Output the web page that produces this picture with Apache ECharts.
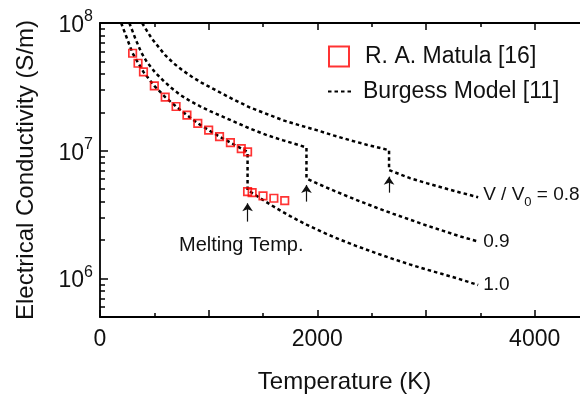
<!DOCTYPE html>
<html>
<head>
<meta charset="utf-8">
<script src="https://cdn.jsdelivr.net/npm/echarts@6/dist/echarts.min.js"></script>
<style>
html, body { margin: 0; padding: 0; background: #fff; }
#chart { width: 580px; height: 395px; }
</style>
</head>
<body>
<div id="chart"></div>
<script>
// R. A. Matula data (K, S/m)
const matulaT = [300, 350, 400, 500, 600, 700, 800, 900, 1000, 1100, 1200, 1300, 1358, 1358, 1400, 1500, 1600, 1700];
const matulaS = [5.8e7, 4.84e7, 4.14e7, 3.22e7, 2.63e7, 2.22e7, 1.90e7, 1.64e7, 1.45e7, 1.29e7, 1.16e7, 1.04e7, 9.8e6,
  4.79e6, 4.70e6, 4.43e6, 4.25e6, 4.07e6];

// Burgess model, V/V0 = 1.0
const burgess10T = [195, 241, 300, 400, 500, 600, 700, 800, 900, 1000, 1100, 1200, 1300, 1358, 1358, 1410, 1500, 1600, 1750, 1900,
  2050, 2200, 2350, 2550, 2700, 2850, 3000, 3150, 3300, 3480];
const burgess10S = [1.0e8, 7.87e7, 5.8e7, 4.14e7, 3.22e7, 2.63e7, 2.22e7, 1.90e7, 1.64e7, 1.45e7, 1.29e7, 1.16e7, 1.04e7, 9.8e6, 4.93e6, 4.62e6, 4.12e6, 3.65e6, 3.08e6, 2.64e6,
  2.30e6, 2.03e6, 1.81e6, 1.57e6, 1.42e6, 1.29e6, 1.18e6, 1.085e6, 9.95e5, 8.9e5];

// Burgess model, V/V0 = 0.9
const burgess09T = [270, 300, 324, 379, 431, 508, 584, 661, 737, 829, 921, 1013, 1228, 1381, 1535, 1687, 1841, 1900, 1900,
  1994, 2147, 2300, 2393, 2546, 2699, 2852, 3006, 3159, 3312, 3480];
const burgess09S = [1.0e8, 8.6e7, 7.6e7, 5.9e7, 4.95e7, 4.1e7, 3.53e7, 3.08e7, 2.74e7, 2.45e7, 2.23e7, 2.04e7, 1.70e7, 1.49e7, 1.325e7, 1.205e7, 1.10e7, 1.06e7, 6.08e6,
  5.57e6, 4.89e6, 4.32e6, 4.02e6, 3.58e6, 3.21e6, 2.89e6, 2.60e6, 2.36e6, 2.14e6, 1.95e6];

// Burgess model, V/V0 = 0.8
const burgess08T = [388, 431, 477, 538, 600, 676, 753, 845, 937, 1075, 1228, 1381, 1535, 1687, 1841, 1994, 2147, 2300, 2454, 2660, 2660,
  2853, 3006, 3159, 3312, 3480];
const burgess08S = [1.0e8, 8.7e7, 7.55e7, 6.5e7, 5.6e7, 4.85e7, 4.3e7, 3.8e7, 3.4e7, 2.95e7, 2.52e7, 2.18e7, 1.94e7, 1.73e7, 1.58e7, 1.45e7, 1.32e7, 1.21e7, 1.115e7, 1.01e7, 7.06e6,
  6.1e6, 5.58e6, 5.12e6, 4.72e6, 4.33e6];

// melting-point arrows: [T, tail, tip]
const arrows = [[1358, 2.79e6, 3.88e6], [1900, 4.0e6, 5.4e6], [2660, 4.7e6, 6.27e6]];

// axis ticks
const xLabels = [0, 2000, 4000];
const yMajor = [1e6, 1e7, 1e8];
const yMinor = [6e5, 7e5, 8e5, 9e5, 2e6, 3e6, 4e6, 5e6, 6e6, 7e6, 8e6, 9e6, 2e7, 3e7, 4e7, 5e7, 6e7, 7e7, 8e7, 9e7];
const yMin = 5e5, yMax = 1e8;

const FONT = "'Liberation Sans', Arial, sans-serif";
const zip = (a, b) => a.map((v, i) => [v, b[i]]);

const chart = echarts.init(document.getElementById('chart'));

const dotted = { color: '#000', width: 2.5, type: [3.5, 3], cap: 'butt' };
const sub = {
  a: { fontSize: 19, fontFamily: FONT, color: '#111', lineHeight: 24, verticalAlign: 'top' },
  s: { fontSize: 13, fontFamily: FONT, color: '#111', lineHeight: 12, verticalAlign: 'bottom' }
};

function modelSeries(data, text) {
  return {
    name: 'Burgess Model [11]',
    type: 'line',
    data: data,
    symbol: 'none',
    lineStyle: dotted,
    itemStyle: { color: '#000' },
    z: 2,
    animation: false,
    endLabel: { show: true, formatter: text, distance: 5, fontSize: 19, fontFamily: FONT, color: '#111', rich: sub }
  };
}

const xTickAxis = (pos) => ({
  type: 'value', position: pos, min: 0, max: 4500, interval: 1000,
  axisLine: { show: true, onZero: false, lineStyle: { color: '#000', width: 1.8 } },
  axisTick: { show: true, inside: true, length: 7, lineStyle: { color: '#000', width: 1.5 } },
  minorTick: { show: true, splitNumber: 2, length: 4, lineStyle: { color: '#000', width: 1.5 } },
  splitLine: { show: false },
  axisLabel: pos === 'bottom'
    ? { customValues: xLabels, formatter: v => String(v), fontSize: 23, fontFamily: FONT, color: '#111', margin: 11 }
    : { show: false }
});

chart.setOption({
  backgroundColor: '#fff',
  animation: false,
  grid: { left: 100, right: -9, top: 23, bottom: 78, outerBoundsMode: 'none' },
  legend: [
    {
      data: ['R. A. Matula [16]'], left: 328, top: 45, padding: 0, orient: 'vertical',
      itemWidth: 20, itemHeight: 20, selectedMode: false,
      itemStyle: { borderWidth: 2 },
      textStyle: { fontSize: 23, fontFamily: FONT, color: '#111', padding: [0, 0, 0, 11] }
    },
    {
      data: ['Burgess Model [11]'], left: 327, top: 80, padding: 0, orient: 'vertical',
      itemWidth: 26, itemHeight: 14, selectedMode: false,
      itemStyle: { opacity: 0 },
      textStyle: { fontSize: 23, fontFamily: FONT, color: '#111', padding: [0, 0, 0, 4] }
    }
  ],
  xAxis: [
    Object.assign(xTickAxis('bottom'), {
      name: 'Temperature (K)', nameLocation: 'middle', nameGap: 53,
      nameTextStyle: { fontSize: 24, fontFamily: FONT, color: '#111' }
    }),
    xTickAxis('top')
  ],
  yAxis: [
    {
      type: 'log', logBase: 10, min: yMin, max: yMax, position: 'left', show: false
    },
    {
      type: 'value', position: 'left', min: Math.log10(yMin), max: Math.log10(yMax),
      name: 'Electrical Conductivity (S/m)', nameLocation: 'middle', nameGap: 62,
      nameTextStyle: { fontSize: 24, fontFamily: FONT, color: '#111' },
      axisLine: { show: true, onZero: false, lineStyle: { color: '#000', width: 1.8 } },
      axisTick: { show: true, inside: true, length: 8, customValues: yMajor.map(Math.log10),
        lineStyle: { color: '#000', width: 1.5 } },
      splitLine: { show: false },
      axisLabel: {
        customValues: yMajor.map(Math.log10), margin: 7,
        formatter: v => '{b|10}{s|' + Math.round(v) + '}',
        rich: {
          b: { fontSize: 23, fontFamily: FONT, color: '#111', lineHeight: 28, verticalAlign: 'bottom' },
          s: { fontSize: 16, fontFamily: FONT, color: '#111', lineHeight: 14, verticalAlign: 'top' }
        }
      }
    },
    {
      type: 'value', position: 'left', min: Math.log10(yMin), max: Math.log10(yMax),
      axisLine: { show: false },
      axisTick: { show: true, inside: true, length: 5, customValues: yMinor.map(Math.log10),
        lineStyle: { color: '#000', width: 1.5 } },
      axisLabel: { show: false },
      splitLine: { show: false }
    }
  ],
  series: [
    modelSeries(zip(burgess10T, burgess10S), '1.0'),
    modelSeries(zip(burgess09T, burgess09S), '0.9'),
    modelSeries(zip(burgess08T, burgess08S), '{a|V / V}{s|0}{a| = 0.8}'),
    {
      name: 'R. A. Matula [16]',
      type: 'scatter',
      data: zip(matulaT, matulaS),
      symbol: 'rect',
      symbolSize: 7.5,
      itemStyle: { color: 'rgba(0,0,0,0)', borderColor: '#ff0000', borderWidth: 1.7 },
      z: 5,
      markLine: {
        silent: true, animation: false,
        symbol: ['none', 'arrow'], symbolSize: 8,
        lineStyle: { color: '#111', width: 1.2, type: 'solid' },
        label: { show: false },
        data: arrows.map(a => [{ coord: [a[0], a[1]] }, { coord: [a[0], a[2]] }])
      },
      markPoint: {
        silent: true, animation: false,
        symbol: 'rect', symbolSize: 1,
        itemStyle: { color: 'rgba(0,0,0,0)' },
        label: { show: true, position: 'inside', formatter: 'Melting Temp.',
          fontSize: 20, fontFamily: FONT, color: '#111' },
        data: [{ coord: [1300, 1.8e6] }]
      }
    }
  ]
});
</script>
</body>
</html>
